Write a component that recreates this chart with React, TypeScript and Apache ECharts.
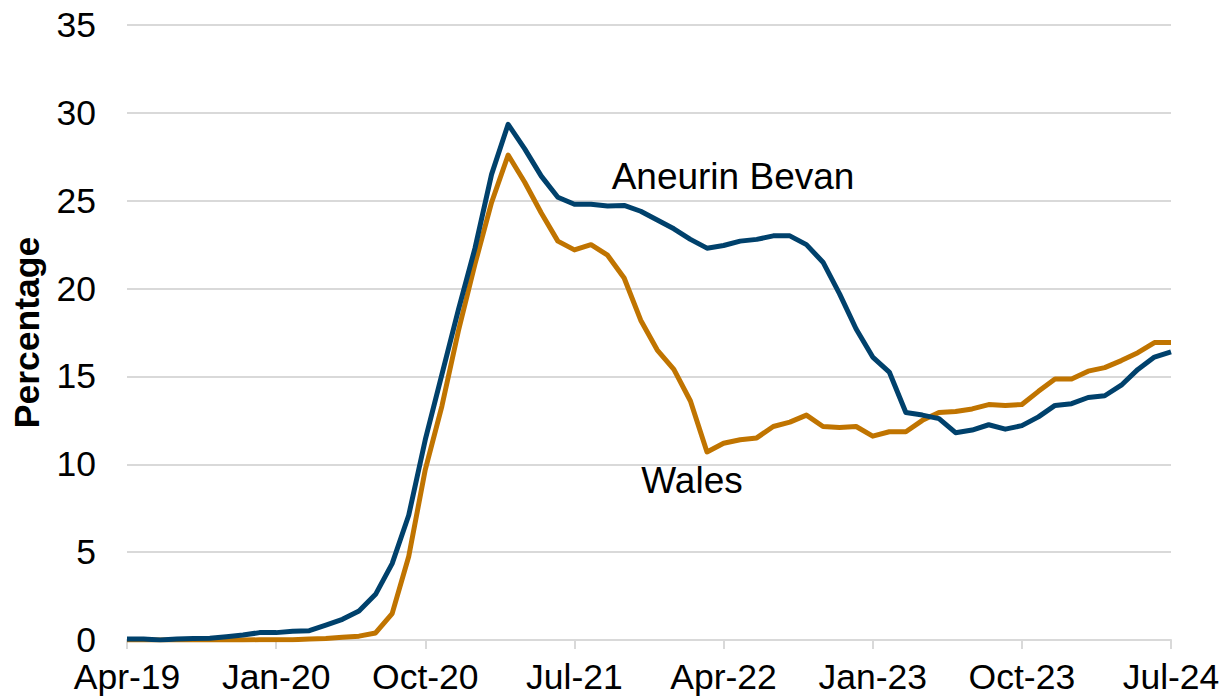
import React, { useEffect, useRef } from "react";
import * as echarts from "echarts";

const months: string[] = [
  "Apr-19", "May-19", "Jun-19", "Jul-19", "Aug-19", "Sep-19", "Oct-19", "Nov-19", "Dec-19",
  "Jan-20", "Feb-20", "Mar-20", "Apr-20", "May-20", "Jun-20", "Jul-20", "Aug-20", "Sep-20", "Oct-20", "Nov-20", "Dec-20",
  "Jan-21", "Feb-21", "Mar-21", "Apr-21", "May-21", "Jun-21", "Jul-21", "Aug-21", "Sep-21", "Oct-21", "Nov-21", "Dec-21",
  "Jan-22", "Feb-22", "Mar-22", "Apr-22", "May-22", "Jun-22", "Jul-22", "Aug-22", "Sep-22", "Oct-22", "Nov-22", "Dec-22",
  "Jan-23", "Feb-23", "Mar-23", "Apr-23", "May-23", "Jun-23", "Jul-23", "Aug-23", "Sep-23", "Oct-23", "Nov-23", "Dec-23",
  "Jan-24", "Feb-24", "Mar-24", "Apr-24", "May-24", "Jun-24", "Jul-24",
];

const aneurinBevan: number[] = [
  0.05, 0.05, 0.0, 0.05, 0.08, 0.1, 0.18, 0.28, 0.42,
  0.42, 0.5, 0.53, 0.85, 1.18, 1.65, 2.6, 4.35, 7.1, 11.4, 15.1, 18.8,
  22.3, 26.5, 29.35, 27.95, 26.4, 25.2, 24.8, 24.8, 24.7, 24.73, 24.4, 23.9,
  23.4, 22.8, 22.3, 22.45, 22.7, 22.8, 23.0, 23.0, 22.5, 21.5, 19.7, 17.7,
  16.1, 15.25, 12.95, 12.8, 12.6, 11.8, 11.95, 12.25, 12.0, 12.2, 12.7, 13.35,
  13.45, 13.8, 13.9, 14.5, 15.4, 16.1, 16.4,
];

const wales: number[] = [
  0.0, 0.0, 0.0, 0.0, 0.0, 0.0, 0.0, 0.0, 0.01,
  0.01, 0.02, 0.05, 0.08, 0.15, 0.22, 0.4, 1.5, 4.75, 9.7, 13.3, 17.6,
  21.4, 24.9, 27.6, 26.05, 24.3, 22.7, 22.2, 22.5, 21.9, 20.6, 18.2, 16.5,
  15.4, 13.6, 10.7, 11.2, 11.4, 11.5, 12.15, 12.4, 12.8, 12.15, 12.1, 12.15,
  11.6, 11.85, 11.85, 12.5, 12.95, 13.0, 13.15, 13.4, 13.35, 13.4, 14.15, 14.85,
  14.85, 15.3, 15.5, 15.9, 16.35, 16.93, 16.93,
];

const seriesNames = ["Aneurin Bevan", "Wales"];
const yAxisTitle = "Percentage";

export default function App() {
  const ref = useRef<HTMLDivElement>(null);

  useEffect(() => {
    document.body.style.margin = "0";
    if (!ref.current) return;
    const chart = echarts.init(ref.current, null, { renderer: "svg" });
    const font = "Liberation Sans, Arial, sans-serif";
    chart.setOption({
      animation: false,
      backgroundColor: "#ffffff",
      grid: { left: 127, right: 60, top: 25, bottom: 60, containLabel: false, outerBoundsMode: "none" },
      xAxis: {
        type: "category",
        data: months,
        boundaryGap: false,
        axisLine: { show: true, lineStyle: { color: "#d9d9d9", width: 2 } },
        axisTick: { show: true, interval: 8, length: 9, lineStyle: { color: "#d9d9d9", width: 2 } },
        axisLabel: {
          interval: 8,
          margin: 19,
          color: "#000000",
          fontSize: 35.5,
          fontFamily: font,
        },
        splitLine: { show: false },
      },
      yAxis: {
        type: "value",
        min: 0,
        max: 35,
        interval: 5,
        name: yAxisTitle,
        nameLocation: "middle",
        nameGap: 82,
        nameRotate: 90,
        nameTextStyle: { color: "#000000", fontSize: 35.5, fontWeight: "bold", fontFamily: font },
        axisLine: { show: false },
        axisTick: { show: false },
        axisLabel: { margin: 31, color: "#000000", fontSize: 35.5, fontFamily: font },
        splitLine: { show: true, lineStyle: { color: "#d9d9d9", width: 2 } },
      },
      series: [
        {
          name: seriesNames[1],
          type: "line",
          data: wales,
          symbol: "none",
          lineStyle: { color: "#c07400", width: 5, join: "round" },
          z: 2,
        },
        {
          name: seriesNames[0],
          type: "line",
          data: aneurinBevan,
          symbol: "none",
          lineStyle: { color: "#00416c", width: 5, join: "round" },
          z: 3,
        },
      ],
      graphic: [
        {
          type: "text",
          x: 733,
          y: 176,
          style: {
            text: seriesNames[0],
            fill: "#000000",
            fontSize: 37,
            fontFamily: font,
            textAlign: "center",
            textVerticalAlign: "middle",
          },
        },
        {
          type: "text",
          x: 692,
          y: 480,
          style: {
            text: seriesNames[1],
            fill: "#000000",
            fontSize: 37,
            fontFamily: font,
            textAlign: "center",
            textVerticalAlign: "middle",
          },
        },
      ],
    });
    return () => chart.dispose();
  }, []);

  return <div ref={ref} style={{ width: 1231, height: 700 }} />;
}
